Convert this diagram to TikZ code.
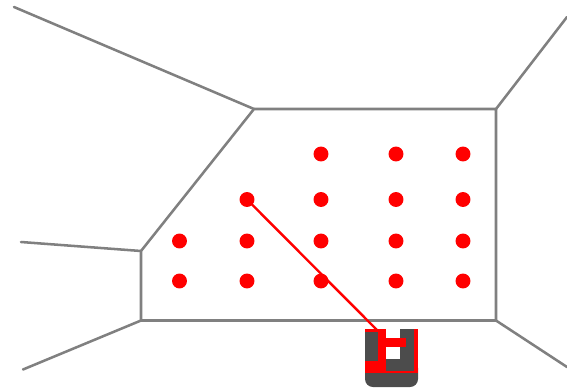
\documentclass[tikz,border=0pt]{standalone}
\tikzset{
  wall/.style={draw=black!50!white,line width=1.9pt,line cap=round,line join=round},
  dot/.style={circle,fill=red,inner sep=0pt,minimum size=11.2pt},
  ray/.style={draw=red,line width=1.8pt},
  px/.style={x=0.75pt,y=-0.75pt}
}
\definecolor{body}{gray}{0.3}
\begin{document}
\begin{tikzpicture}[px]
\useasboundingbox (0,0) rectangle (567,389);
% walls
\coordinate (w1) at (254,109);
\coordinate (w2) at (496,109);
\coordinate (w3) at (496,320.5);
\coordinate (w4) at (141,320.5);
\coordinate (w5) at (141,251);
\coordinate (o1) at (14,7);
\coordinate (o2) at (567,17);
\coordinate (o3) at (567,367);
\coordinate (o4) at (23,369.5);
\coordinate (o5) at (21,242);
\draw[wall] (w1) -- (w2) -- (w3) -- (w4) -- (w5) -- cycle;
\draw[wall] (w1) -- (o1);
\draw[wall] (w2) -- (o2);
\draw[wall] (w3) -- (o3);
\draw[wall] (w4) -- (o4);
\draw[wall] (w5) -- (o5);
% robot body
\fill[body,rounded corners=6pt] (365,360) rectangle (418,387);
\fill[body] (365,329) rectangle (418,370);
\fill[white] (386,329) rectangle (400,337.5);
\fill[white] (386,346.5) rectangle (400,358.5);
% red cells
\fill[red] (365,329) rectangle (386,331.5);
\fill[red] (378,329) rectangle (386,373);
\fill[red] (386,337.5) rectangle (405.5,346.5);
\fill[red] (365,361) rectangle (386,373);
\fill[red] (386,371) rectangle (418,373);
\fill[red] (413.5,329) rectangle (418,373);
% dots
\foreach \n/\x/\y in {a/321/154,b/396/154,c/463/154,
  d/247/199.5,e/321/199.5,f/396/199.5,g/463/199.5,
  h/179.5/241,i/247/241,j/321/241,k/396/241,l/463/241,
  m/179.5/281,n/247/281,o/321/281,p/396/281,q/463/281}
  \node[dot] (\n) at (\x,\y) {};
\coordinate (r) at (378,331);
\draw[ray] (d.center) -- (r);
\end{tikzpicture}
\end{document}
